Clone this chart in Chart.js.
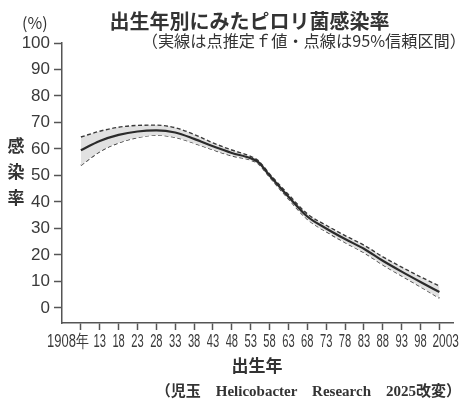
<!DOCTYPE html>
<html lang="ja">
<head>
<meta charset="utf-8">
<script src="https://cdn.jsdelivr.net/npm/chart.js@4.4.1/dist/chart.umd.min.js"></script>
<style>
  body { margin: 0; background: #fff; }
  #wrap { position: relative; width: 466px; height: 400px; overflow: hidden; }
  #wrap canvas { position: absolute; left: 0; top: 0; }
  .txt { position: absolute; color: #333; white-space: nowrap; font-family: "Noto Sans CJK JP", "Noto Sans", sans-serif; }
  #pct { left: 22px; top: 10px; font-size: 16px; }
  #title { left: 0; width: 499px; top: 6px; text-align: center; font-size: 20px; font-weight: bold; }
  #subtitle { right: 0; top: 28px; font-size: 16.2px; }
  #ylabel { left: 6px; width: 20px; top: 132px; font-size: 17px; font-weight: bold; line-height: 26px; text-align: center; white-space: normal; }
  #xlabel { left: 0; width: 514px; top: 352px; text-align: center; font-size: 17px; font-weight: bold; }
  #source { right: 5px; top: 379px; font-size: 15px; font-weight: bold; font-family: "Liberation Serif", "DejaVu Serif", "Noto Sans CJK JP", serif; }
</style>
</head>
<body>
<div id="wrap">
  <canvas id="chart"></canvas>
  <div class="txt" id="pct">(%)</div>
  <div class="txt" id="title">出生年別にみたピロリ菌感染率</div>
  <div class="txt" id="subtitle">（実線は点推定ｆ値・点線は95%信頼区間）</div>
  <div class="txt" id="ylabel">感<br>染<br>率</div>
  <div class="txt" id="xlabel">出生年</div>
  <div class="txt" id="source">（児玉　Helicobacter　Research　2025改変）</div>
</div>
<script>
// birth years and infection rate (%)
const years    = [1908, 1913, 1918, 1923, 1928, 1933, 1938, 1943, 1948, 1953, 1955, 1958, 1963, 1968, 1973, 1978, 1983, 1988, 1993, 1998, 2003];
const estimate = [59.5, 63.0, 65.3, 66.6, 67.0, 66.2, 63.8, 61.0, 58.5, 56.5, 55.0, 50.0, 42.0, 34.5, 30.0, 26.0, 22.3, 17.8, 13.7, 9.8, 6.0];
const upper95  = [64.5, 66.7, 68.2, 68.9, 69.0, 68.0, 65.5, 62.3, 59.6, 57.2, 55.6, 50.6, 42.8, 35.5, 31.2, 27.3, 23.7, 19.3, 15.4, 11.7, 8.3];
const lower95  = [53.8, 59.0, 62.3, 64.3, 65.2, 64.4, 62.2, 59.7, 57.4, 55.8, 54.4, 49.4, 41.2, 33.5, 28.8, 24.7, 20.9, 16.3, 12.1, 8.0, 3.7];

const xTickValues = [1908, 1913, 1918, 1923, 1928, 1933, 1938, 1943, 1948, 1953, 1958, 1963, 1968, 1973, 1978, 1983, 1988, 1993, 1998, 2003];
const xTickLabels = ['1908年', '13', '18', '23', '28', '33', '38', '43', '48', '53', '58', '63', '68', '73', '78', '83', '88', '93', '98', '2003'];
const yTickValues = [0, 10, 20, 30, 40, 50, 60, 70, 80, 90, 100];

const toPoints = arr => years.map((yr, i) => ({ x: yr, y: arr[i] }));

// the x labels in the figure are set in a very condensed face, so squeeze them horizontally
const condensedXLabels = {
    id: 'condensedXLabels',
    afterDraw(chart) {
        const ctx = chart.ctx;
        const xs = chart.scales.x;
        const last = xTickValues.length - 1;
        ctx.save();
        ctx.fillStyle = '#3a3a3a';
        ctx.font = '18px "Liberation Sans", Arial, sans-serif';
        ctx.textBaseline = 'alphabetic';
        xTickValues.forEach((v, i) => {
            let px = xs.getPixelForValue(v);
            let align = 'center';
            let sx = 0.62;
            if (i === 0) { align = 'right'; px += 8; sx = 0.72; }
            if (i === last) { align = 'left'; px -= 7; sx = 0.66; }
            ctx.save();
            ctx.translate(px, xs.top + 24);
            ctx.scale(sx, 1);
            ctx.textAlign = align;
            ctx.fillText(xTickLabels[i], 0, 0);
            ctx.restore();
        });
        ctx.restore();
    }
};

new Chart(document.getElementById('chart'), {
    type: 'line',
    data: {
        datasets: [
            {
                label: '点推定値',
                data: toPoints(estimate),
                borderColor: '#2b2b2b',
                borderWidth: 2.2,
                pointRadius: 0,
                cubicInterpolationMode: 'monotone',
                fill: false
            },
            {
                label: '95%信頼区間（上限）',
                data: toPoints(upper95),
                borderColor: '#3a3a3a',
                borderWidth: 1.4,
                borderDash: [4, 2.5],
                pointRadius: 0,
                cubicInterpolationMode: 'monotone',
                backgroundColor: '#e1e1e1',
                fill: '+1'
            },
            {
                label: '95%信頼区間（下限）',
                data: toPoints(lower95),
                borderColor: '#3a3a3a',
                borderWidth: 1.4,
                borderDash: [4, 2.5],
                pointRadius: 0,
                cubicInterpolationMode: 'monotone',
                fill: false
            }
        ]
    },
    options: {
        responsive: true,
        maintainAspectRatio: false,
        animation: false,
        layout: { padding: { top: 43, right: 13, left: 0, bottom: 0 } },
        plugins: {
            legend: { display: false },
            tooltip: { enabled: false }
        },
        scales: {
            x: {
                type: 'linear',
                min: 1903,
                max: 2006.6,
                afterBuildTicks: axis => { axis.ticks = xTickValues.map(v => ({ value: v })); },
                afterFit: axis => { axis.height = 77; },
                border: { display: true, color: '#555', width: 1.5 },
                grid: { drawOnChartArea: false, drawTicks: true, tickLength: 7, tickWidth: 1.5, color: '#555' },
                ticks: { display: false }
            },
            y: {
                min: -5.7,
                max: 100,
                afterBuildTicks: axis => { axis.ticks = yTickValues.map(v => ({ value: v })); },
                afterFit: axis => { axis.width = 62; },
                border: { display: true, color: '#555', width: 1.5 },
                grid: { drawOnChartArea: false, drawTicks: true, tickLength: 8, tickWidth: 1.5, color: '#555' },
                ticks: {
                    padding: 4,
                    color: '#3a3a3a',
                    font: { family: '"Liberation Sans", Arial, sans-serif', size: 17 },
                    callback: value => String(value)
                }
            }
        }
    },
    plugins: [condensedXLabels]
});
</script>
</body>
</html>
